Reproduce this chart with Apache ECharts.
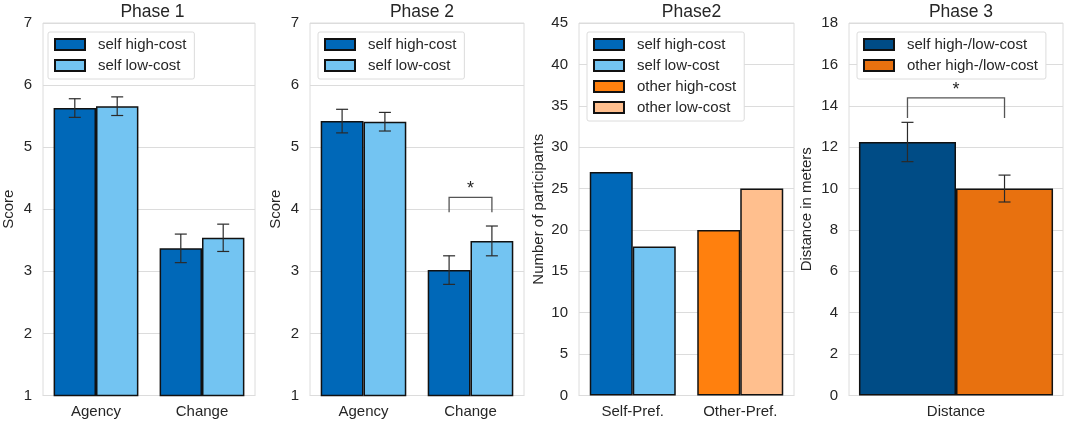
<!DOCTYPE html>
<html><head><meta charset="utf-8">
<script src="https://cdn.jsdelivr.net/npm/echarts@6/dist/echarts.min.js"></script>
<style>html,body{margin:0;padding:0;background:#fff}#c{width:1065px;height:422px}</style>
</head><body><div id="c"></div>
<script>
// ---- data ----
const titles = ['Phase 1', 'Phase 2', 'Phase2', 'Phase 3'];
const yNames = ['Score', 'Score', 'Number of participants', 'Distance in meters'];

const p1Cats = ['Agency', 'Change'];
const p1High = [5.63, 3.37];
const p1HighErr = [0.15, 0.23];
const p1Low = [5.66, 3.54];
const p1LowErr = [0.15, 0.22];

const p2Cats = ['Agency', 'Change'];
const p2High = [5.42, 3.02];
const p2HighErr = [0.19, 0.23];
const p2Low = [5.41, 3.49];
const p2LowErr = [0.15, 0.24];
const p2Sig = [[1, 4.19, 3.95]];

const p3Cats = ['Self-Pref.', 'Other-Pref.'];
const p3SelfHigh = [27, '-'];
const p3SelfLow = [18, '-'];
const p3OtherHigh = ['-', 20];
const p3OtherLow = ['-', 25];

const p4Cats = ['Distance'];
const p4Self = [12.25];
const p4SelfErr = [0.95];
const p4Other = [10.0];
const p4OtherErr = [0.65];
const p4Sig = [[0, 14.38, 13.41]];

const sigLabel = '*';

// ---- style ----
const FONT = 'Liberation Sans, Arial, sans-serif';
const TXT = '#262626';
const C = {
  selfHigh: '#0068B8', selfLow: '#73C4F2',
  otherHigh: '#FF800E', otherLow: '#FFBF8E',
  p4Self: '#004C86', p4Other: '#E8710F'
};
const grids = [
  {left: 40, width: 215, top: 23, height: 372.5},
  {left: 310, width: 214, top: 23, height: 372.5},
  {left: 579, width: 215, top: 23, height: 372.5},
  {left: 849, width: 214, top: 23, height: 372.5}
];
const gaps = [0.2, 0.2, 0.2, 0.093];
const yRanges = [[1, 7, 1], [1, 7, 1], [0, 45, 5], [0, 18, 2]];
const nameGaps = [27, 27, 33, 35];
const cats = [p1Cats, p2Cats, p3Cats, p4Cats];

function bar(name, gi, data, color, extra) {
  return Object.assign({
    type: 'bar', barGap: '0%',
    name, xAxisIndex: gi, yAxisIndex: gi, data,
    barCategoryGap: (gaps[gi] * 100) + '%',
    itemStyle: {color, borderColor: '#111', borderWidth: 1.5}
  }, extra || {});
}
function errSeries(gi, means, errs, slot, nSlots) {
  const gap = gaps[gi];
  return {
    type: 'custom', xAxisIndex: gi, yAxisIndex: gi, z: 5, silent: true,
    data: means.map((m, i) => [i, m - errs[i], m + errs[i]]),
    renderItem: (params, api) => {
      const ci = api.value(0);
      const lo = api.coord([ci, api.value(1)]);
      const hi = api.coord([ci, api.value(2)]);
      const cw = api.size([1, 0])[0];
      const gw = cw * (1 - gap), bw = gw / nSlots;
      const x = lo[0] - gw / 2 + bw * (slot + 0.5);
      const cap = 6;
      const st = {stroke: '#2a2a2a', lineWidth: 1.2};
      return {type: 'group', children: [
        {type: 'line', shape: {x1: x, y1: lo[1], x2: x, y2: hi[1]}, style: st},
        {type: 'line', shape: {x1: x - cap, y1: lo[1], x2: x + cap, y2: lo[1]}, style: st},
        {type: 'line', shape: {x1: x - cap, y1: hi[1], x2: x + cap, y2: hi[1]}, style: st}
      ]};
    }
  };
}
function sigSeries(gi, data) {
  const gap = gaps[gi];
  return {
    type: 'custom', xAxisIndex: gi, yAxisIndex: gi, z: 6, silent: true,
    data: data,
    renderItem: (params, api) => {
      const ci = api.value(0);
      const top = api.coord([ci, api.value(1)]);
      const bot = api.coord([ci, api.value(2)]);
      const cw = api.size([1, 0])[0];
      const gw = cw * (1 - gap), bw = gw / 2;
      const x0 = top[0] - gw / 2 + bw * 0.5;
      const x1 = top[0] - gw / 2 + bw * 1.5;
      return {type: 'group', children: [
        {type: 'polyline', shape: {points: [[x0, bot[1]], [x0, top[1]], [x1, top[1]], [x1, bot[1]]]},
         style: {stroke: '#555', lineWidth: 1.3, fill: null}},
        {type: 'text', style: {text: sigLabel, x: (x0 + x1) / 2, y: top[1] - 8,
          textAlign: 'center', textVerticalAlign: 'middle', fontSize: 18, fontFamily: FONT, fill: TXT}}
      ]};
    }
  };
}

const option = {
  backgroundColor: '#fff',
  animation: false,
  title: grids.map((g, i) => ({
    text: titles[i], left: g.left + g.width / 2, top: -2, textAlign: 'center',
    textStyle: {fontSize: 17.5, fontWeight: 'normal', color: TXT, fontFamily: FONT}
  })),
  grid: grids.map(g => Object.assign({show: true, borderColor: '#dcdcdc', borderWidth: 1, backgroundColor: '#fff'}, g)),
  xAxis: grids.map((g, i) => ({
    type: 'category', gridIndex: i, data: cats[i],
    axisLine: {show: true, lineStyle: {color: '#dcdcdc'}},
    axisTick: {show: false},
    axisLabel: {fontSize: 15, color: TXT, fontFamily: FONT, margin: 9},
    splitLine: {show: false}
  })),
  yAxis: grids.map((g, i) => ({
    type: 'value', gridIndex: i, min: yRanges[i][0], max: yRanges[i][1], interval: yRanges[i][2],
    name: yNames[i], nameLocation: 'middle', nameGap: nameGaps[i],
    nameTextStyle: {fontSize: 15, color: TXT, fontFamily: FONT},
    axisLine: {show: false}, axisTick: {show: false},
    axisLabel: {fontSize: 15, color: TXT, fontFamily: FONT, margin: 11},
    splitLine: {show: true, lineStyle: {color: '#dcdcdc', width: 1}}
  })),
  legend: [
    {left: 48, top: 32, data: ['self high-cost', 'self low-cost']},
    {left: 318, top: 32, data: ['self high-cost', 'self low-cost']},
    {left: 587, top: 32, data: ['self high-cost', 'self low-cost', 'other high-cost', 'other low-cost']},
    {left: 857, top: 32, data: ['self high-/low-cost', 'other high-/low-cost']}
  ].map(l => Object.assign({
    orient: 'vertical', icon: 'rect', itemWidth: 30, itemHeight: 11, itemGap: 6,
    padding: [5, 8, 6, 6], borderColor: '#dcdcdc', borderWidth: 1, borderRadius: 2,
    backgroundColor: '#fff', selectedMode: false,
    textStyle: {fontSize: 15, color: TXT, fontFamily: FONT, padding: [0, 0, 0, 8], lineHeight: 15}
  }, l)),
  series: [
    bar('self high-cost', 0, p1High, C.selfHigh),
    bar('self low-cost', 0, p1Low, C.selfLow),
    errSeries(0, p1High, p1HighErr, 0, 2),
    errSeries(0, p1Low, p1LowErr, 1, 2),

    bar('self high-cost', 1, p2High, C.selfHigh),
    bar('self low-cost', 1, p2Low, C.selfLow),
    errSeries(1, p2High, p2HighErr, 0, 2),
    errSeries(1, p2Low, p2LowErr, 1, 2),
    sigSeries(1, p2Sig),

    bar('self high-cost', 2, p3SelfHigh, C.selfHigh, {stack: 'first'}),
    bar('self low-cost', 2, p3SelfLow, C.selfLow, {stack: 'second'}),
    bar('other high-cost', 2, p3OtherHigh, C.otherHigh, {stack: 'first'}),
    bar('other low-cost', 2, p3OtherLow, C.otherLow, {stack: 'second'}),

    bar('self high-/low-cost', 3, p4Self, C.p4Self),
    bar('other high-/low-cost', 3, p4Other, C.p4Other),
    errSeries(3, p4Self, p4SelfErr, 0, 2),
    errSeries(3, p4Other, p4OtherErr, 1, 2),
    sigSeries(3, p4Sig)
  ]
};
const chart = echarts.init(document.getElementById('c'), null, {renderer: 'canvas'});
chart.setOption(option);
</script>
</body></html>
